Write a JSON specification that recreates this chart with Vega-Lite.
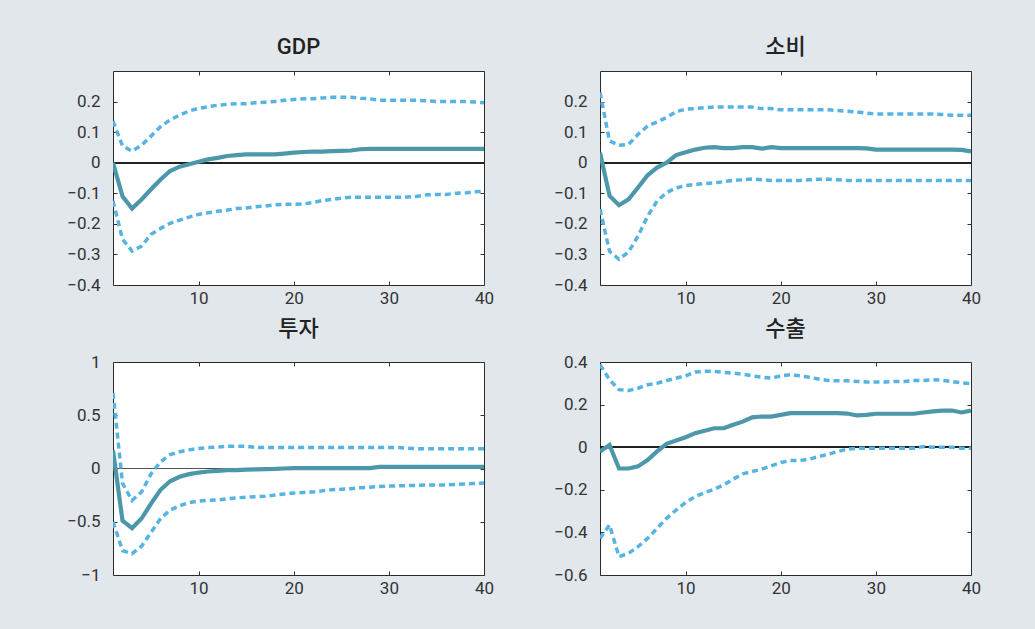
{
  "$schema": "https://vega.github.io/schema/vega-lite/v6.json",
  "background": "#e2e7ec",
  "padding": {"left": 66, "top": 35, "right": 58, "bottom": 42},
  "spacing": 10,
  "datasets": {
    "irf": [
      {"p":"GDP","x":1,"m":0,"lo":-0.125,"hi":0.136},
      {"p":"GDP","x":2,"m":-0.11,"lo":-0.25,"hi":0.055},
      {"p":"GDP","x":3,"m":-0.15,"lo":-0.289,"hi":0.038},
      {"p":"GDP","x":4,"m":-0.12,"lo":-0.273,"hi":0.057},
      {"p":"GDP","x":5,"m":-0.087,"lo":-0.234,"hi":0.087},
      {"p":"GDP","x":6,"m":-0.055,"lo":-0.215,"hi":0.118},
      {"p":"GDP","x":7,"m":-0.027,"lo":-0.198,"hi":0.14},
      {"p":"GDP","x":8,"m":-0.013,"lo":-0.188,"hi":0.156},
      {"p":"GDP","x":9,"m":-0.005,"lo":-0.178,"hi":0.169},
      {"p":"GDP","x":10,"m":0.003,"lo":-0.169,"hi":0.178},
      {"p":"GDP","x":11,"m":0.011,"lo":-0.164,"hi":0.183},
      {"p":"GDP","x":12,"m":0.016,"lo":-0.159,"hi":0.188},
      {"p":"GDP","x":13,"m":0.022,"lo":-0.155,"hi":0.191},
      {"p":"GDP","x":14,"m":0.025,"lo":-0.15,"hi":0.193},
      {"p":"GDP","x":15,"m":0.027,"lo":-0.148,"hi":0.193},
      {"p":"GDP","x":16,"m":0.027,"lo":-0.144,"hi":0.196},
      {"p":"GDP","x":17,"m":0.027,"lo":-0.142,"hi":0.198},
      {"p":"GDP","x":18,"m":0.027,"lo":-0.138,"hi":0.2},
      {"p":"GDP","x":19,"m":0.03,"lo":-0.136,"hi":0.204},
      {"p":"GDP","x":20,"m":0.033,"lo":-0.136,"hi":0.207},
      {"p":"GDP","x":21,"m":0.035,"lo":-0.135,"hi":0.209},
      {"p":"GDP","x":22,"m":0.036,"lo":-0.13,"hi":0.209},
      {"p":"GDP","x":23,"m":0.036,"lo":-0.124,"hi":0.212},
      {"p":"GDP","x":24,"m":0.038,"lo":-0.12,"hi":0.214},
      {"p":"GDP","x":25,"m":0.039,"lo":-0.116,"hi":0.214},
      {"p":"GDP","x":26,"m":0.04,"lo":-0.113,"hi":0.214},
      {"p":"GDP","x":27,"m":0.044,"lo":-0.113,"hi":0.211},
      {"p":"GDP","x":28,"m":0.045,"lo":-0.113,"hi":0.209},
      {"p":"GDP","x":29,"m":0.045,"lo":-0.113,"hi":0.204},
      {"p":"GDP","x":30,"m":0.045,"lo":-0.113,"hi":0.204},
      {"p":"GDP","x":31,"m":0.045,"lo":-0.113,"hi":0.204},
      {"p":"GDP","x":32,"m":0.045,"lo":-0.112,"hi":0.204},
      {"p":"GDP","x":33,"m":0.045,"lo":-0.11,"hi":0.204},
      {"p":"GDP","x":34,"m":0.045,"lo":-0.105,"hi":0.203},
      {"p":"GDP","x":35,"m":0.045,"lo":-0.104,"hi":0.2},
      {"p":"GDP","x":36,"m":0.045,"lo":-0.104,"hi":0.2},
      {"p":"GDP","x":37,"m":0.045,"lo":-0.1,"hi":0.2},
      {"p":"GDP","x":38,"m":0.045,"lo":-0.099,"hi":0.2},
      {"p":"GDP","x":39,"m":0.045,"lo":-0.095,"hi":0.199},
      {"p":"GDP","x":40,"m":0.045,"lo":-0.094,"hi":0.196},

      {"p":"소비","x":1,"m":0.033,"lo":-0.152,"hi":0.23},
      {"p":"소비","x":2,"m":-0.108,"lo":-0.29,"hi":0.071},
      {"p":"소비","x":3,"m":-0.139,"lo":-0.316,"hi":0.057},
      {"p":"소비","x":4,"m":-0.12,"lo":-0.292,"hi":0.06},
      {"p":"소비","x":5,"m":-0.081,"lo":-0.24,"hi":0.093},
      {"p":"소비","x":6,"m":-0.041,"lo":-0.175,"hi":0.12},
      {"p":"소비","x":7,"m":-0.016,"lo":-0.125,"hi":0.133},
      {"p":"소비","x":8,"m":0.0,"lo":-0.098,"hi":0.148},
      {"p":"소비","x":9,"m":0.025,"lo":-0.082,"hi":0.167},
      {"p":"소비","x":10,"m":0.034,"lo":-0.075,"hi":0.175},
      {"p":"소비","x":11,"m":0.043,"lo":-0.071,"hi":0.177},
      {"p":"소비","x":12,"m":0.049,"lo":-0.068,"hi":0.18},
      {"p":"소비","x":13,"m":0.051,"lo":-0.066,"hi":0.182},
      {"p":"소비","x":14,"m":0.048,"lo":-0.062,"hi":0.182},
      {"p":"소비","x":15,"m":0.048,"lo":-0.058,"hi":0.182},
      {"p":"소비","x":16,"m":0.051,"lo":-0.056,"hi":0.182},
      {"p":"소비","x":17,"m":0.051,"lo":-0.053,"hi":0.182},
      {"p":"소비","x":18,"m":0.046,"lo":-0.056,"hi":0.177},
      {"p":"소비","x":19,"m":0.051,"lo":-0.058,"hi":0.177},
      {"p":"소비","x":20,"m":0.048,"lo":-0.058,"hi":0.173},
      {"p":"소비","x":21,"m":0.048,"lo":-0.058,"hi":0.173},
      {"p":"소비","x":22,"m":0.048,"lo":-0.058,"hi":0.173},
      {"p":"소비","x":23,"m":0.048,"lo":-0.056,"hi":0.173},
      {"p":"소비","x":24,"m":0.048,"lo":-0.054,"hi":0.173},
      {"p":"소비","x":25,"m":0.048,"lo":-0.054,"hi":0.173},
      {"p":"소비","x":26,"m":0.048,"lo":-0.056,"hi":0.171},
      {"p":"소비","x":27,"m":0.048,"lo":-0.058,"hi":0.168},
      {"p":"소비","x":28,"m":0.048,"lo":-0.058,"hi":0.166},
      {"p":"소비","x":29,"m":0.047,"lo":-0.058,"hi":0.162},
      {"p":"소비","x":30,"m":0.043,"lo":-0.058,"hi":0.159},
      {"p":"소비","x":31,"m":0.043,"lo":-0.058,"hi":0.159},
      {"p":"소비","x":32,"m":0.043,"lo":-0.058,"hi":0.159},
      {"p":"소비","x":33,"m":0.043,"lo":-0.058,"hi":0.159},
      {"p":"소비","x":34,"m":0.043,"lo":-0.058,"hi":0.159},
      {"p":"소비","x":35,"m":0.043,"lo":-0.058,"hi":0.159},
      {"p":"소비","x":36,"m":0.043,"lo":-0.058,"hi":0.159},
      {"p":"소비","x":37,"m":0.043,"lo":-0.058,"hi":0.158},
      {"p":"소비","x":38,"m":0.043,"lo":-0.058,"hi":0.155},
      {"p":"소비","x":39,"m":0.042,"lo":-0.058,"hi":0.155},
      {"p":"소비","x":40,"m":0.037,"lo":-0.058,"hi":0.155},

      {"p":"투자","x":1,"m":0.17,"lo":-0.5,"hi":0.71},
      {"p":"투자","x":2,"m":-0.49,"lo":-0.77,"hi":-0.14},
      {"p":"투자","x":3,"m":-0.56,"lo":-0.8,"hi":-0.3},
      {"p":"투자","x":4,"m":-0.47,"lo":-0.73,"hi":-0.22},
      {"p":"투자","x":5,"m":-0.33,"lo":-0.6,"hi":-0.05},
      {"p":"투자","x":6,"m":-0.2,"lo":-0.47,"hi":0.063},
      {"p":"투자","x":7,"m":-0.12,"lo":-0.39,"hi":0.13},
      {"p":"투자","x":8,"m":-0.078,"lo":-0.35,"hi":0.157},
      {"p":"투자","x":9,"m":-0.053,"lo":-0.32,"hi":0.175},
      {"p":"투자","x":10,"m":-0.038,"lo":-0.305,"hi":0.188},
      {"p":"투자","x":11,"m":-0.028,"lo":-0.3,"hi":0.197},
      {"p":"투자","x":12,"m":-0.022,"lo":-0.295,"hi":0.2},
      {"p":"투자","x":13,"m":-0.016,"lo":-0.285,"hi":0.21},
      {"p":"투자","x":14,"m":-0.015,"lo":-0.275,"hi":0.21},
      {"p":"투자","x":15,"m":-0.01,"lo":-0.27,"hi":0.21},
      {"p":"투자","x":16,"m":-0.008,"lo":-0.265,"hi":0.197},
      {"p":"투자","x":17,"m":-0.006,"lo":-0.26,"hi":0.197},
      {"p":"투자","x":18,"m":-0.004,"lo":-0.25,"hi":0.197},
      {"p":"투자","x":19,"m":0.0,"lo":-0.24,"hi":0.197},
      {"p":"투자","x":20,"m":0.003,"lo":-0.23,"hi":0.197},
      {"p":"투자","x":21,"m":0.003,"lo":-0.225,"hi":0.197},
      {"p":"투자","x":22,"m":0.003,"lo":-0.22,"hi":0.197},
      {"p":"투자","x":23,"m":0.003,"lo":-0.21,"hi":0.197},
      {"p":"투자","x":24,"m":0.003,"lo":-0.2,"hi":0.197},
      {"p":"투자","x":25,"m":0.003,"lo":-0.195,"hi":0.197},
      {"p":"투자","x":26,"m":0.003,"lo":-0.19,"hi":0.197},
      {"p":"투자","x":27,"m":0.003,"lo":-0.18,"hi":0.197},
      {"p":"투자","x":28,"m":0.003,"lo":-0.175,"hi":0.197},
      {"p":"투자","x":29,"m":0.015,"lo":-0.17,"hi":0.197},
      {"p":"투자","x":30,"m":0.015,"lo":-0.165,"hi":0.197},
      {"p":"투자","x":31,"m":0.015,"lo":-0.163,"hi":0.197},
      {"p":"투자","x":32,"m":0.015,"lo":-0.16,"hi":0.19},
      {"p":"투자","x":33,"m":0.015,"lo":-0.158,"hi":0.185},
      {"p":"투자","x":34,"m":0.015,"lo":-0.155,"hi":0.185},
      {"p":"투자","x":35,"m":0.015,"lo":-0.155,"hi":0.185},
      {"p":"투자","x":36,"m":0.015,"lo":-0.155,"hi":0.185},
      {"p":"투자","x":37,"m":0.015,"lo":-0.15,"hi":0.185},
      {"p":"투자","x":38,"m":0.015,"lo":-0.145,"hi":0.185},
      {"p":"투자","x":39,"m":0.015,"lo":-0.14,"hi":0.185},
      {"p":"투자","x":40,"m":0.015,"lo":-0.135,"hi":0.185},

      {"p":"수출","x":1,"m":-0.02,"lo":-0.428,"hi":0.387},
      {"p":"수출","x":2,"m":0.011,"lo":-0.365,"hi":0.317},
      {"p":"수출","x":3,"m":-0.1,"lo":-0.514,"hi":0.27},
      {"p":"수출","x":4,"m":-0.1,"lo":-0.498,"hi":0.266},
      {"p":"수출","x":5,"m":-0.09,"lo":-0.467,"hi":0.277},
      {"p":"수출","x":6,"m":-0.06,"lo":-0.428,"hi":0.293},
      {"p":"수출","x":7,"m":-0.02,"lo":-0.381,"hi":0.3},
      {"p":"수출","x":8,"m":0.016,"lo":-0.334,"hi":0.313},
      {"p":"수출","x":9,"m":0.031,"lo":-0.295,"hi":0.324},
      {"p":"수출","x":10,"m":0.047,"lo":-0.26,"hi":0.335},
      {"p":"수출","x":11,"m":0.066,"lo":-0.232,"hi":0.353},
      {"p":"수출","x":12,"m":0.077,"lo":-0.213,"hi":0.356},
      {"p":"수출","x":13,"m":0.089,"lo":-0.197,"hi":0.356},
      {"p":"수출","x":14,"m":0.089,"lo":-0.177,"hi":0.351},
      {"p":"수출","x":15,"m":0.105,"lo":-0.15,"hi":0.348},
      {"p":"수출","x":16,"m":0.12,"lo":-0.125,"hi":0.343},
      {"p":"수출","x":17,"m":0.14,"lo":-0.114,"hi":0.335},
      {"p":"수출","x":18,"m":0.144,"lo":-0.103,"hi":0.329},
      {"p":"수출","x":19,"m":0.144,"lo":-0.088,"hi":0.324},
      {"p":"수출","x":20,"m":0.152,"lo":-0.072,"hi":0.335},
      {"p":"수출","x":21,"m":0.16,"lo":-0.063,"hi":0.34},
      {"p":"수출","x":22,"m":0.16,"lo":-0.063,"hi":0.335},
      {"p":"수출","x":23,"m":0.16,"lo":-0.056,"hi":0.328},
      {"p":"수출","x":24,"m":0.16,"lo":-0.044,"hi":0.32},
      {"p":"수출","x":25,"m":0.16,"lo":-0.033,"hi":0.313},
      {"p":"수출","x":26,"m":0.16,"lo":-0.02,"hi":0.312},
      {"p":"수출","x":27,"m":0.158,"lo":-0.009,"hi":0.312},
      {"p":"수출","x":28,"m":0.149,"lo":-0.005,"hi":0.309},
      {"p":"수출","x":29,"m":0.152,"lo":-0.005,"hi":0.306},
      {"p":"수출","x":30,"m":0.157,"lo":-0.005,"hi":0.306},
      {"p":"수출","x":31,"m":0.157,"lo":-0.005,"hi":0.306},
      {"p":"수출","x":32,"m":0.157,"lo":-0.005,"hi":0.309},
      {"p":"수출","x":33,"m":0.157,"lo":-0.005,"hi":0.309},
      {"p":"수출","x":34,"m":0.157,"lo":-0.005,"hi":0.313},
      {"p":"수출","x":35,"m":0.163,"lo":0.003,"hi":0.313},
      {"p":"수출","x":36,"m":0.168,"lo":0.0,"hi":0.317},
      {"p":"수출","x":37,"m":0.172,"lo":0.0,"hi":0.314},
      {"p":"수출","x":38,"m":0.172,"lo":0.0,"hi":0.308},
      {"p":"수출","x":39,"m":0.163,"lo":-0.005,"hi":0.302},
      {"p":"수출","x":40,"m":0.172,"lo":-0.005,"hi":0.298}
    ]
  },
  "data": {"name": "irf"},
  "vconcat": [
    {
      "hconcat": [
        {
          "title": {"text": "GDP"},
          "width": 371, "height": 214,
          "transform": [{"filter": "datum.p === 'GDP'"}],
          "layer": [
            {"mark": {"type": "rule", "color": "#222", "strokeWidth": 1}, "encoding": {"y": {"datum": 0, "type": "quantitative", "axis": null}}},
            {"mark": {"type": "line", "color": "#56b4e3", "strokeWidth": 3.5, "strokeDash": [6, 4], "clip": true},
             "encoding": {"x": {"field": "x", "type": "quantitative", "scale": {"domain": [1, 40], "nice": false, "zero": false}, "axis": {"orient": "top", "labels": false, "values": [10, 20, 30, 40], "title": null}},
                          "y": {"field": "hi", "type": "quantitative", "scale": {"domain": [-0.4, 0.3], "nice": false}, "axis": {"orient": "right", "labels": false, "values": [-0.4, -0.3, -0.2, -0.1, 0, 0.1, 0.2], "title": null}}}},
            {"mark": {"type": "line", "color": "#56b4e3", "strokeWidth": 3.5, "strokeDash": [6, 4], "clip": true},
             "encoding": {"x": {"field": "x", "type": "quantitative", "axis": null}, "y": {"field": "lo", "type": "quantitative", "axis": null}}},
            {"mark": {"type": "line", "color": "#4d97aa", "strokeWidth": 4.2, "clip": true},
             "encoding": {"x": {"field": "x", "type": "quantitative", "axis": {"orient": "bottom", "values": [10, 20, 30, 40], "format": "d", "title": null}},
                          "y": {"field": "m", "type": "quantitative", "axis": {"orient": "left", "values": [-0.4, -0.3, -0.2, -0.1, 0, 0.1, 0.2], "format": ".1~f", "title": null}}}}
          ],
          "resolve": {"axis": {"x": "independent", "y": "independent"}}
        },
        {
          "title": {"text": "소비"},
          "width": 371, "height": 214,
          "transform": [{"filter": "datum.p === '소비'"}],
          "layer": [
            {"mark": {"type": "rule", "color": "#222", "strokeWidth": 1}, "encoding": {"y": {"datum": 0, "type": "quantitative", "axis": null}}},
            {"mark": {"type": "line", "color": "#56b4e3", "strokeWidth": 3.5, "strokeDash": [6, 4], "clip": true},
             "encoding": {"x": {"field": "x", "type": "quantitative", "scale": {"domain": [1, 40], "nice": false, "zero": false}, "axis": {"orient": "top", "labels": false, "values": [10, 20, 30, 40], "title": null}},
                          "y": {"field": "hi", "type": "quantitative", "scale": {"domain": [-0.4, 0.3], "nice": false}, "axis": {"orient": "right", "labels": false, "values": [-0.4, -0.3, -0.2, -0.1, 0, 0.1, 0.2], "title": null}}}},
            {"mark": {"type": "line", "color": "#56b4e3", "strokeWidth": 3.5, "strokeDash": [6, 4], "clip": true},
             "encoding": {"x": {"field": "x", "type": "quantitative", "axis": null}, "y": {"field": "lo", "type": "quantitative", "axis": null}}},
            {"mark": {"type": "line", "color": "#4d97aa", "strokeWidth": 4.2, "clip": true},
             "encoding": {"x": {"field": "x", "type": "quantitative", "axis": {"orient": "bottom", "values": [10, 20, 30, 40], "format": "d", "title": null}},
                          "y": {"field": "m", "type": "quantitative", "axis": {"orient": "left", "values": [-0.4, -0.3, -0.2, -0.1, 0, 0.1, 0.2], "format": ".1~f", "title": null}}}}
          ],
          "resolve": {"axis": {"x": "independent", "y": "independent"}}
        }
      ],
      "spacing": 116,
      "bounds": "flush"
    },
    {
      "hconcat": [
        {
          "title": {"text": "투자"},
          "width": 371, "height": 213,
          "transform": [{"filter": "datum.p === '투자'"}],
          "layer": [
            {"mark": {"type": "rule", "color": "#555", "strokeWidth": 1}, "encoding": {"y": {"datum": 0, "type": "quantitative", "axis": null}}},
            {"mark": {"type": "line", "color": "#56b4e3", "strokeWidth": 3.5, "strokeDash": [6, 4], "clip": true},
             "encoding": {"x": {"field": "x", "type": "quantitative", "scale": {"domain": [1, 40], "nice": false, "zero": false}, "axis": {"orient": "top", "labels": false, "values": [10, 20, 30, 40], "title": null}},
                          "y": {"field": "hi", "type": "quantitative", "scale": {"domain": [-1, 1], "nice": false}, "axis": {"orient": "right", "labels": false, "values": [-1, -0.5, 0, 0.5, 1], "title": null}}}},
            {"mark": {"type": "line", "color": "#56b4e3", "strokeWidth": 3.5, "strokeDash": [6, 4], "clip": true},
             "encoding": {"x": {"field": "x", "type": "quantitative", "axis": null}, "y": {"field": "lo", "type": "quantitative", "axis": null}}},
            {"mark": {"type": "line", "color": "#4d97aa", "strokeWidth": 4.2, "clip": true},
             "encoding": {"x": {"field": "x", "type": "quantitative", "axis": {"orient": "bottom", "values": [10, 20, 30, 40], "format": "d", "title": null}},
                          "y": {"field": "m", "type": "quantitative", "axis": {"orient": "left", "values": [-1, -0.5, 0, 0.5, 1], "format": ".1~f", "title": null}}}}
          ],
          "resolve": {"axis": {"x": "independent", "y": "independent"}}
        },
        {
          "title": {"text": "수출"},
          "width": 371, "height": 213,
          "transform": [{"filter": "datum.p === '수출'"}],
          "layer": [
            {"mark": {"type": "rule", "color": "#222", "strokeWidth": 1}, "encoding": {"y": {"datum": 0, "type": "quantitative", "axis": null}}},
            {"mark": {"type": "line", "color": "#56b4e3", "strokeWidth": 3.5, "strokeDash": [6, 4], "clip": true},
             "encoding": {"x": {"field": "x", "type": "quantitative", "scale": {"domain": [1, 40], "nice": false, "zero": false}, "axis": {"orient": "top", "labels": false, "values": [10, 20, 30, 40], "title": null}},
                          "y": {"field": "hi", "type": "quantitative", "scale": {"domain": [-0.6, 0.4], "nice": false}, "axis": {"orient": "right", "labels": false, "values": [-0.6, -0.4, -0.2, 0, 0.2, 0.4], "title": null}}}},
            {"mark": {"type": "line", "color": "#56b4e3", "strokeWidth": 3.5, "strokeDash": [6, 4], "clip": true},
             "encoding": {"x": {"field": "x", "type": "quantitative", "axis": null}, "y": {"field": "lo", "type": "quantitative", "axis": null}}},
            {"mark": {"type": "line", "color": "#4d97aa", "strokeWidth": 4.2, "clip": true},
             "encoding": {"x": {"field": "x", "type": "quantitative", "axis": {"orient": "bottom", "values": [10, 20, 30, 40], "format": "d", "title": null}},
                          "y": {"field": "m", "type": "quantitative", "axis": {"orient": "left", "values": [-0.6, -0.4, -0.2, 0, 0.2, 0.4], "format": ".1~f", "title": null}}}}
          ],
          "resolve": {"axis": {"x": "independent", "y": "independent"}}
        }
      ],
      "spacing": 116,
      "bounds": "flush"
    }
  ],
  "config": {
    "view": {"stroke": "#2b2b2b", "strokeWidth": 1, "fill": "white"},
    "axis": {"domain": false, "grid": false, "ticks": true, "tickSize": -4, "tickColor": "#333", "labelFont": "Roboto", "labelFontSize": 17, "labelColor": "#333", "labelFlush": false, "labelOverlap": false},
    "axisX": {"labelPadding": 9},
    "axisY": {"labelPadding": 17},
    "title": {"font": "Roboto, Noto Sans CJK KR", "fontSize": 22, "fontWeight": 500, "color": "#222", "frame": "group", "anchor": "middle", "offset": 12}
  }
}
